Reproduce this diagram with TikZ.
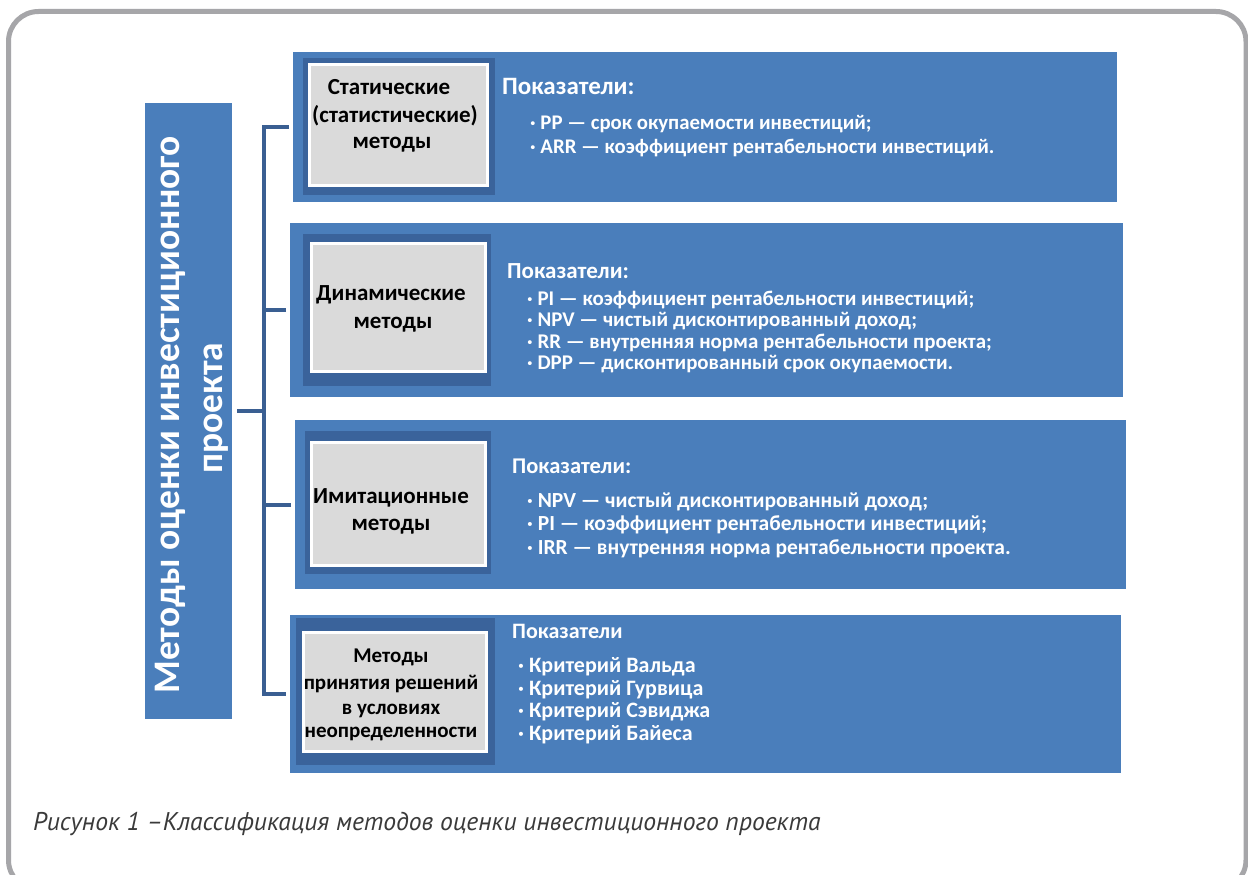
\documentclass[tikz,border=0pt]{standalone}
\usepackage{fontspec}
\setmainfont{Carlito}
\newfontfamily\capfont{PT Sans}
\definecolor{boxblue}{RGB}{74,126,187}
\definecolor{framedark}{RGB}{58,99,155}
\definecolor{graybg}{RGB}{218,218,218}
\definecolor{bracketblue}{RGB}{58,95,146}
\definecolor{framegray}{RGB}{166,166,169}
\definecolor{captext}{RGB}{58,58,58}
\begin{document}
\begin{tikzpicture}[x=1pt,y=-1pt,
  bluebox/.style={fill=boxblue, draw=none, inner sep=0pt, outer sep=0pt, anchor=north west},
  darkframe/.style={fill=framedark, draw=none, inner sep=0pt, outer sep=0pt, anchor=north west},
  graybox/.style={fill=graybg, draw=white, line width=3pt, inner sep=0pt, anchor=north west},
  titletext/.style={font=\fontsize{#1}{26}\selectfont\bfseries, text=black, anchor=base, inner sep=0pt},
  titletext/.default=23,
  headtext/.style={font=\fontsize{#1}{26}\selectfont\bfseries, text=white, anchor=base west, inner sep=0pt},
  headtext/.default=23,
  itemtext/.style={font=\fontsize{#1}{22}\selectfont\bfseries, text=white, anchor=base west, inner sep=0pt},
  itemtext/.default=21,
  sidetext/.style={font=\fontsize{37.5}{44}\selectfont\bfseries, text=white, anchor=base, rotate=90, inner sep=0pt},
  captiontext/.style={font=\capfont\itshape\fontsize{25.6}{30}\selectfont, text=captext, anchor=base west, inner sep=0pt},
  bracket/.style={draw=bracketblue, line width=4pt}
]
\useasboundingbox (0,0) rectangle (1248,875);
\fill[white] (0,0) rectangle (1248,875);
\draw[line width=5pt, framegray, rounded corners=30pt] (8.5,11.5) rectangle (1246,890);

% left main box
\node[bluebox, minimum width=87pt, minimum height=616pt] (main) at (145,103) {};
\node[sidetext] (side1) at (179,415) {Методы оценки инвестиционного};
\node[sidetext] (side2) at (222,408) {проекта};

% blue boxes
\node[bluebox, minimum width=824pt, minimum height=150pt] (b1) at (293,52) {};
\node[bluebox, minimum width=833pt, minimum height=174pt] (b2) at (290,223) {};
\node[bluebox, minimum width=831pt, minimum height=169pt] (b3) at (295,420) {};
\node[bluebox, minimum width=831pt, minimum height=158pt] (b4) at (290,615) {};

% dark frames
\node[darkframe, minimum width=192pt, minimum height=137pt] (f1) at (303,58) {};
\node[darkframe, minimum width=188pt, minimum height=152pt] (f2) at (303,234) {};
\node[darkframe, minimum width=186pt, minimum height=143pt] (f3) at (305,431) {};
\node[darkframe, minimum width=199pt, minimum height=147pt] (f4) at (296,618) {};

% gray boxes
\node[graybox, minimum width=178pt, minimum height=121pt] (g1) at (308,63) {};
\node[graybox, minimum width=174pt, minimum height=128pt] (g2) at (310,242) {};
\node[graybox, minimum width=174pt, minimum height=123pt] (g3) at (310,441) {};
\node[graybox, minimum width=183pt, minimum height=119pt] (g4) at (302,631) {};

% titles
\node[titletext] (t1a) at (389,95) {Статические};
\node[titletext] (t1b) at (395,122) {(статистические)};
\node[titletext] (t1c) at (392,148) {методы};
\node[titletext] (t2a) at (391,300) {Динамические};
\node[titletext] (t2b) at (393,328) {методы};
\node[titletext] (t3a) at (391,503) {Имитационные};
\node[titletext] (t3b) at (391,530) {методы};
\node[titletext=21] (t4a) at (391,662) {Методы};
\node[titletext=21] (t4b) at (391,689) {принятия решений};
\node[titletext=21] (t4c) at (391,714) {в условиях};
\node[titletext=21] (t4d) at (391,737) {неопределенности};

% box 1 text
\node[headtext=25] (h1) at (502,95) {Показатели:};
\node[itemtext=20.8] (i1a) at (530,129) {· PP — срок окупаемости инвестиций;};
\node[itemtext=20.8] (i1b) at (530,153) {· ARR — коэффициент рентабельности инвестиций.};

% box 2 text
\node[headtext=23] (h2) at (507,278) {Показатели:};
\node[itemtext=20.9] (i2a) at (527,305) {· PI — коэффициент рентабельности инвестиций;};
\node[itemtext=20.9] (i2b) at (527,326.5) {· NPV — чистый дисконтированный доход;};
\node[itemtext=20.9] (i2c) at (527,348) {· RR — внутренняя норма рентабельности проекта;};
\node[itemtext=20.9] (i2d) at (527,369) {· DPP — дисконтированный срок окупаемости.};

% box 3 text
\node[headtext=22.5] (h3) at (512,473) {Показатели:};
\node[itemtext=21.5] (i3a) at (527,507) {· NPV — чистый дисконтированный доход;};
\node[itemtext=21.5] (i3b) at (527,530.5) {· PI — коэффициент рентабельности инвестиций;};
\node[itemtext=21.5] (i3c) at (527,554) {· IRR — внутренняя норма рентабельности проекта.};

% box 4 text
\node[headtext=22] (h4) at (512,638) {Показатели};
\node[itemtext=22] (i4a) at (518,672) {· Критерий Вальда};
\node[itemtext=22] (i4b) at (518,695) {· Критерий Гурвица};
\node[itemtext=22] (i4c) at (518,717) {· Критерий Сэвиджа};
\node[itemtext=22] (i4d) at (518,740) {· Критерий Байеса};

% bracket connectors
\coordinate (sx) at (264,0);
\draw[bracket, shorten <=4pt, shorten >=4pt] (b1.west) -- (b1.west -| sx) -- (b4.west -| sx) -- (b4.west);
\draw[bracket, shorten <=4pt] (b2.west) -- (b2.west -| sx);
\draw[bracket, shorten <=4pt] (b3.west) -- (b3.west -| sx);
\draw[bracket, shorten <=5pt] (main.east) -- (main.east -| sx);

% caption
\node[captiontext] (cap) at (33,830) {Рисунок 1 –Классификация методов оценки инвестиционного проекта};
\end{tikzpicture}
\end{document}
